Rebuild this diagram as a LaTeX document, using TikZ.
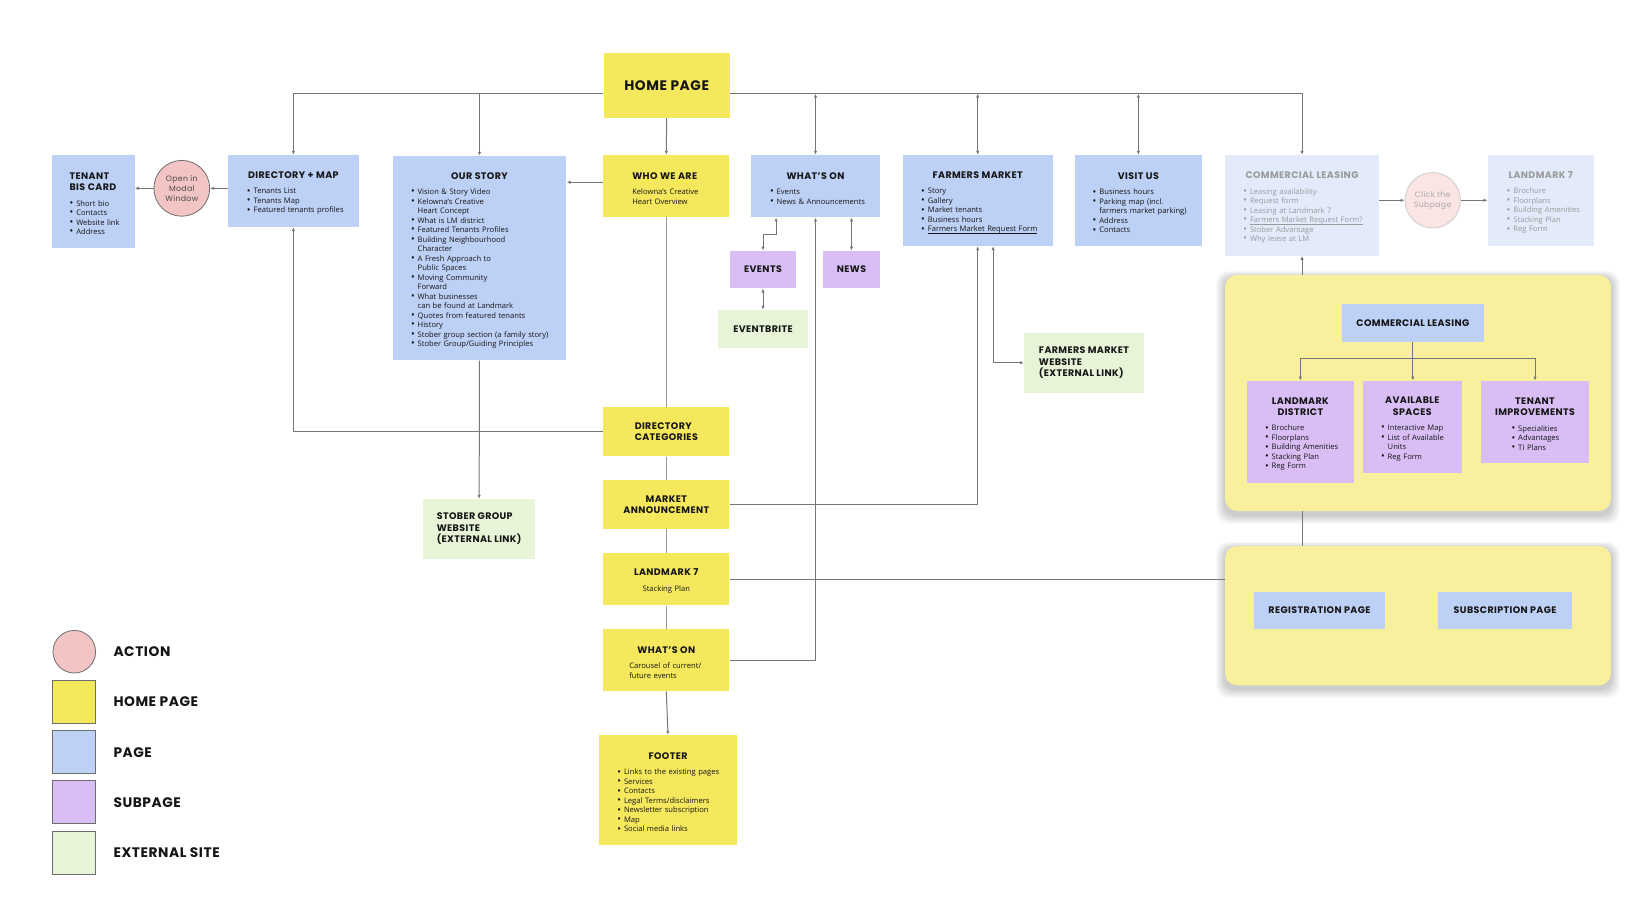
\documentclass[tikz,border=0pt]{standalone}
\usepackage{fontspec}
\setmainfont{Open Sans}
\newfontfamily\hfont{Poppins}[LetterSpace=4]
\usetikzlibrary{arrows.meta,calc}
\definecolor{ylw}{HTML}{F6E85C}
\definecolor{blu}{HTML}{BDD0F6}
\definecolor{pur}{HTML}{D9BEF5}
\definecolor{grn}{HTML}{E7F4D8}
\definecolor{pnk}{HTML}{F3C4C4}
\definecolor{grpy}{HTML}{F8F09C}
\definecolor{fblu}{HTML}{E3EAFA}
\definecolor{fpnk}{HTML}{FAE4E4}
\definecolor{linec}{HTML}{777777}
\definecolor{txt}{HTML}{151515}
\definecolor{ftxt}{HTML}{9A9A9A}
\definecolor{cgray}{HTML}{6E6E6E}
\definecolor{ctxt}{HTML}{4A4A4A}
\pgfdeclarelayer{back}\pgfdeclarelayer{bg}\pgfsetlayers{back,bg,main}
\newcommand\Hd[1]{\par{\hfont\bfseries\fontsize{9.5}{11.3}\selectfont\noindent\hbox to\hsize{\hss#1\hss}\par}}
\newcommand\Hdl[1]{\par{\hfont\bfseries\fontsize{9.5}{11.3}\selectfont\noindent\hbox to\hsize{#1\hss}\par}}
\newcommand\Gp{\par\vspace{6pt}}
\newcommand\Li[1]{\par\noindent\hbox to\hsize{\hbox to 6.7pt{\raisebox{-0.05ex}{\scalebox{1.3}{\textbullet}}\hss}#1\hss}}
\newcommand\Lc[1]{\par\noindent\hbox to\hsize{\hskip6.7pt#1\hss}}
\newcommand\Tl[1]{\par\noindent\hbox to\hsize{#1\hss}}
\newcommand\Cl[1]{\par\noindent\hbox to\hsize{\hss#1\hss}}
\newcommand\Ul[1]{{\setbox0\hbox{#1}\rlap{\rule[-1.6pt]{\wd0}{0.45pt}}\box0}}
\newcommand\mkbox[8][18.5]{%
  \pgfmathsetlengthmacro\bxw{#6-#4}%
  \pgfmathsetlengthmacro\bxh{#7-#5}%
  \pgfmathsetlengthmacro\bxt{#6-#4-2*#1}%
  \node[#3, minimum width=\bxw, minimum height=\bxh, text width=\bxt] (#2) at ({(#4+#6)/2},{(#5+#7)/2}) {#8};}
\newcommand\mksbox[8][center]{%
  \pgfmathsetlengthmacro\bxw{#6-#4}%
  \pgfmathsetlengthmacro\bxh{#7-#5}%
  \node[#3, minimum width=\bxw, minimum height=\bxh, align=#1] (#2) at ({(#4+#6)/2},{(#5+#7)/2}) {#8};}
\begin{document}
\begin{tikzpicture}[x=1pt,y=-1pt,
  >={Latex[length=4pt,width=3.4pt]},
  box/.style={inner sep=0pt, font=\fontsize{7.6}{9.5}\selectfont, text=txt, align=left},
  yb/.style={box, fill=ylw}, bb/.style={box, fill=blu}, pb/.style={box, fill=pur},
  fb/.style={box, fill=fblu, text=ftxt},
  hb/.style={inner sep=0pt, font=\hfont\bfseries\fontsize{9.5}{11.3}\selectfont, text=txt},
  yh/.style={hb, fill=ylw}, bh/.style={hb, fill=blu}, ph/.style={hb, fill=pur}, gh/.style={hb, fill=grn},
  circ/.style={circle, draw=cgray, line width=0.8pt, fill=pnk, inner sep=0pt, font=\hfont\fontsize{7.8}{10}\selectfont, text=ctxt, align=center},
  grp/.style={fill=grpy, rounded corners=12pt, inner sep=0pt},
  conn/.style={draw=linec, line width=1pt},
  lgsq/.style={draw=cgray, line width=0.8pt, minimum size=43pt, inner sep=0pt},
  lgt/.style={anchor=west, inner sep=0pt, font=\hfont\bfseries\fontsize{13.8}{15}\selectfont, text=txt}]
\useasboundingbox (0,0) rectangle (1646,920);

% ---------- background and groups (back layer)
\begin{pgfonlayer}{back}
\fill[white] (0,0) rectangle (1646,920);
\foreach \s in {1,...,10}{
  \fill[black, opacity=0.02, rounded corners=12pt] (1225-\s*0.9, 277-\s*0.6) rectangle (1611+\s*0.9, 515+\s*0.9);
  \fill[black, opacity=0.02, rounded corners=12pt] (1225-\s*0.9, 548-\s*0.6) rectangle (1611+\s*0.9, 689+\s*0.9);
}
\node[grp, minimum width=386pt, minimum height=236pt] (g1) at (1418,393) {};
\node[grp, minimum width=386pt, minimum height=139.3pt] (g2) at (1418,615.65) {};
\end{pgfonlayer}

% ---------- yellow spine
\mksbox{home}{yh, font=\hfont\bfseries\fontsize{13.8}{15}\selectfont}{603.6}{53}{729.7}{117.7}{HOME PAGE}
\mkbox[29]{whoweare}{yb}{603.3}{155}{729.3}{217.3}{\Hdl{WHO WE ARE}\Gp\Tl{Kelowna’s Creative}\Tl{Heart Overview}}
\mksbox[left]{dircat}{yh}{603.3}{407.3}{729.3}{456.3}{DIRECTORY\\CATEGORIES}
\mksbox{ma}{yh}{603.3}{480}{729.3}{528.7}{MARKET\\ANNOUNCEMENT}
\mkbox{lm7}{yb}{603.3}{552.7}{729.3}{605.3}{\Hd{LANDMARK 7}\Gp\Cl{Stacking Plan}}
\mkbox[26]{wo}{yb}{603.3}{629}{729.3}{691.3}{\Hd{WHAT’S ON}\Gp\Tl{Carousel of current/}\Tl{future events}}
\mkbox[18]{footer}{yb}{599.3}{735}{736.7}{845}{\Hd{FOOTER}\Gp\Li{Links to the existing pages}\Li{Services}\Li{Contacts}\Li{Legal Terms/disclaimers}\Li{Newsletter subscription}\Li{Map}\Li{Social media links}}

% ---------- left side
\mkbox[17.5]{tenant}{bb}{52.1}{155}{134.6}{247.7}{\Hdl{TENANT}\Hdl{BIS CARD}\Gp\Li{Short bio}\Li{Contacts}\Li{Website link}\Li{Address}}
\node[circ, minimum size=55.8pt] (modal) at (181.8,188.3) {Open in\\Modal\\Window};
\mkbox[19]{dirmap}{bb}{227.9}{155}{358.9}{227}{\Hd{DIRECTORY + MAP}\Gp\Li{Tenants List}\Li{Tenants Map}\Li{Featured tenants profiles}}
\mkbox{ourstory}{bb}{392.5}{156}{566.4}{360.3}{\Hd{OUR STORY}\Gp\Li{Vision \& Story Video}\Li{Kelowna’s Creative}\Lc{Heart Concept}\Li{What is LM district}\Li{Featured Tenants Profiles}\Li{Building Neighbourhood}\Lc{Character}\Li{A Fresh Approach to}\Lc{Public Spaces}\Li{Moving Community}\Lc{Forward}\Li{What businesses}\Lc{can be found at Landmark}\Li{Quotes from featured tenants}\Li{History}\Li{Stober group section (a family story)}\Li{Stober Group/Guiding Principles}}
\mksbox[left]{stober}{gh}{423}{499}{535.3}{558.7}{STOBER GROUP\\WEBSITE\\(EXTERNAL LINK)}

% ---------- middle / right pages
\mkbox[19]{whatson}{bb}{751}{155}{880}{217.3}{\Hd{WHAT’S ON}\Gp\Li{Events}\Li{News \& Announcements}}
\mksbox{events}{ph}{730}{250.7}{796}{288.3}{EVENTS}
\mksbox{news}{ph}{823}{250.7}{880}{288.3}{NEWS}
\mksbox{eventbrite}{gh}{718.3}{310}{807.7}{347.5}{EVENTBRITE}
\mkbox{fm}{bb}{902.7}{155}{1052.7}{246}{\Hd{FARMERS MARKET}\Gp\Li{Story}\Li{Gallery}\Li{Market tenants}\Li{Business hours}\Li{\Ul{Farmers Market Request Form}}}
\mksbox[left]{fmweb}{gh}{1024}{332.7}{1144}{392.7}{FARMERS MARKET\\WEBSITE\\(EXTERNAL LINK)}
\mkbox[17.7]{visit}{bb}{1075}{155}{1201.7}{246}{\Hd{VISIT US}\Gp\Li{Business hours}\Li{Parking map (incl.}\Lc{farmers market parking)}\Li{Address}\Li{Contacts}}
\mkbox[18.3]{clf}{fb}{1225}{155}{1379}{255.7}{\Hd{COMMERCIAL LEASING}\Gp\Li{Leasing availability}\Li{Request form}\Li{Leasing at Landmark 7}\Li{\Ul{Farmers Market Request Form?}}\Li{Stober Advantage}\Li{Why lease at LM}}
\node[circ, draw=black!20, fill=fpnk, text=black!33, minimum size=55.4pt] (click) at (1432.7,200.3) {Click the\\Subpage};
\mkbox[19]{lm7f}{fb}{1487.7}{155}{1594}{246}{\Hd{LANDMARK 7}\Gp\Li{Brochure}\Li{Floorplans}\Li{Building Amenities}\Li{Stacking Plan}\Li{Reg Form}}

% ---------- commercial leasing group
\mksbox{clin}{bh}{1342}{303.7}{1483.7}{341.7}{COMMERCIAL LEASING}
\mkbox[18]{ld}{pb}{1247}{380.7}{1353.7}{482.7}{\Hd{LANDMARK}\Hd{DISTRICT}\Gp\Li{Brochure}\Li{Floorplans}\Li{Building Amenities}\Li{Stacking Plan}\Li{Reg Form}}
\mkbox[18]{as}{pb}{1363}{380.7}{1461.7}{473}{\Hd{AVAILABLE}\Hd{SPACES}\Gp\Li{Interactive Map}\Li{List of Available}\Lc{Units}\Li{Reg Form}}
\mkbox[30.5]{ti}{pb}{1481}{380.7}{1589}{463.3}{\Hd{TENANT}\Hd{IMPROVEMENTS}\Gp\Li{Specialities}\Li{Advantages}\Li{TI Plans}}
\mksbox{reg}{bh}{1254}{591.7}{1385}{629.3}{REGISTRATION PAGE}
\mksbox{sub}{bh}{1438.3}{591.7}{1572}{629.3}{SUBSCRIPTION PAGE}

% ---------- legend
\node[circ, minimum size=42.6pt] (lgA) at (74.3,651.7) {};
\node[lgsq, fill=ylw] (lgH) at (74.2,701.8) {};
\node[lgsq, fill=blu] (lgP) at (74.2,752.3) {};
\node[lgsq, fill=pur] (lgS) at (74.2,802.3) {};
\node[lgsq, fill=grn] (lgE) at (74.2,852.5) {};
\node[lgt] (lgAt) at (113.3,651.7) {ACTION};
\node[lgt] (lgHt) at (113.3,701.8) {HOME PAGE};
\node[lgt] (lgPt) at (113.3,752.3) {PAGE};
\node[lgt] (lgSt) at (113.3,802.3) {SUBPAGE};
\node[lgt] (lgEt) at (113.3,852.5) {EXTERNAL SITE};

% ---------- connectors
\coordinate (hbus) at (0,93.7);
\coordinate (wy) at (0,182.3);
\coordinate (cb) at (0,358.3);
\begin{pgfonlayer}{bg}
\draw[conn,->] (home.west |- hbus) -| (dirmap.north);
\draw[conn,->] (ourstory.north |- hbus) -- (ourstory.north);
\draw[conn,->] (home.east |- hbus) -| (clf.north);
\draw[conn,<->] (whatson.north |- hbus) -- (whatson.north);
\draw[conn,<->] (fm.north |- hbus) -- (fm.north);
\draw[conn,<->] (visit.north |- hbus) -- (visit.north);
\draw[conn,->] (home.south) -- (whoweare.north);
\draw[conn,->] (whoweare.west |- wy) -- (ourstory.east |- wy);
\draw[conn, draw=black!40, line width=1.3pt] (whoweare.south) -- (dircat.north) (dircat.south) -- (ma.north) (ma.south) -- (lm7.north) (lm7.south) -- (wo.north);
\draw[conn,->] (wo.south) -- (footer.north);
\draw[conn,->] (dircat.west) -| (dirmap.south);
\draw[conn,->] (ourstory.south) -- (stober.north);
\draw[conn,->] (ma.east) -| (fm.south);
\draw[conn] (lm7.east) -- (lm7.east -| g2.west);
\draw[conn,->] (wo.east) -| (whatson.south);
\draw[conn,<->] ($(whatson.south west)+(25.3,0)$) -- ++(0,16.7) -| (events.north);
\draw[conn,<->] (whatson.south -| news.north) -- (news.north);
\draw[conn,<->] (events.south) -- (eventbrite.north);
\draw[conn,<->] ($(fm.south west)+(90.6,0)$) |- (fmweb.west);
\draw[conn,->] (modal.east -| dirmap.west) -- (modal.east);
\draw[conn,->] (modal.west) -- (modal.west -| tenant.east);
\draw[conn,->] (click.west -| clf.east) -- (click.west);
\draw[conn,->] (click.east) -- (click.east -| lm7f.west);
\draw[conn,<-] (clf.south) -- (clf.south |- g1.north);
\draw[conn] (clf.south |- g1.south) -- (clf.south |- g2.north);
\draw[conn] (clin.south) -- (clin.south |- cb);
\draw[conn] (ld.north |- cb) -- (ti.north |- cb);
\draw[conn,->] (ld.north |- cb) -- (ld.north);
\draw[conn,->] (clin.south |- cb) -- (clin.south |- as.north);
\draw[conn,->] (ti.north |- cb) -- (ti.north);
\end{pgfonlayer}
\end{tikzpicture}
\end{document}
